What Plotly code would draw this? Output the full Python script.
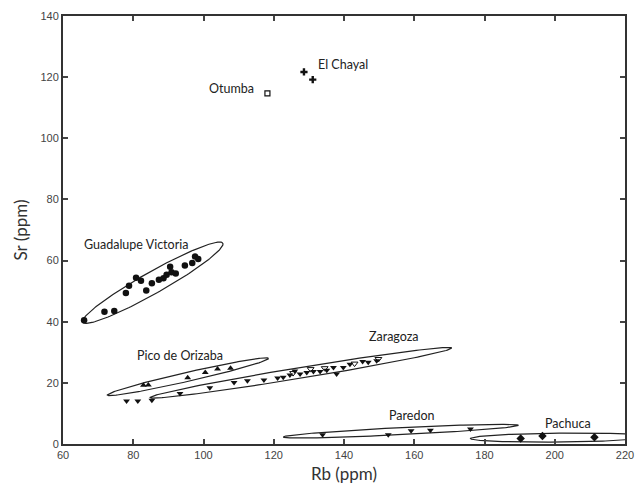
import numpy as np
import plotly.graph_objects as go

# ---------------- data ----------------
gv_rb = [66.0, 71.8, 74.6, 77.9, 78.8, 80.8, 82.2, 83.7, 85.3, 87.3, 88.6, 89.5, 90.5, 90.9, 92.1, 94.7, 96.8, 97.6, 98.5]
gv_sr = [40.5, 43.3, 43.5, 49.4, 51.8, 54.4, 53.4, 50.2, 52.6, 53.7, 54.2, 55.4, 58.0, 56.2, 55.8, 58.4, 59.2, 61.3, 60.5]

po_rb = [82.9, 84.3, 95.5, 100.5, 104.0, 107.7]
po_sr = [19.2, 19.3, 21.7, 23.4, 24.5, 24.8]

za_rb = [78.1, 81.3, 85.3, 93.3, 101.8, 108.7, 112.5, 117.2, 121.1, 122.7, 124.6, 126.0, 127.5, 129.4,
         131.3, 133.2, 135.1, 137.0, 137.9, 139.8, 141.7, 145.3, 146.9, 149.3]
za_sr = [14.1, 14.1, 14.3, 16.5, 18.4, 20.1, 20.7, 20.9, 21.6, 21.8, 22.6, 23.9, 22.9, 23.4,
         23.7, 23.7, 24.1, 25.0, 22.9, 25.0, 26.1, 27.0, 26.7, 27.2]
za_open_rb = [125.5, 130.5, 134.5, 143.0, 149.8]
za_open_sr = [23.2, 24.5, 24.8, 26.3, 27.8]

pa_rb = [133.9, 152.6, 159.1, 164.6, 176.0]
pa_sr = [3.0, 3.0, 4.3, 4.5, 4.9]

pc_rb = [190.3, 196.5, 211.3]
pc_sr = [1.8, 2.6, 2.2]

ec_rb = [128.6, 131.1]
ec_sr = [121.7, 119.2]

ot_rb = [118.2]
ot_sr = [114.7]

# ellipses: end points (Rb, Sr) and relative half-width
ell_names = ["Guadalupe Victoria", "Pico de Orizaba", "Zaragoza", "Paredon", "Pachuca"]
ell_x1 = [65.6, 72.6, 84.8, 122.7, 176.0]
ell_y1 = [39.8, 16.0, 15.2, 2.3, 1.8]
ell_x2 = [105.5, 118.5, 170.7, 189.7, 227.0]
ell_y2 = [65.7, 28.0, 31.4, 6.1, 2.4]
ell_w = [0.135, 0.055, 0.035, 0.03, 0.05]

# group labels
lab_text = ["Guadalupe Victoria", "Pico de Orizaba", "Zaragoza", "Paredon", "Pachuca", "El Chayal", "Otumba"]
lab_x = [80.8, 93.4, 154.1, 159.3, 203.9, 139.8, 108.0]
lab_y = [65.2, 28.9, 35.1, 9.2, 6.7, 124.0, 116.4]

# ---------------- figure ----------------
W, H = 636, 490
ML, MR, MT, MB = 63, 11, 16, 46
XR, YR = (60, 220), (0, 140)
sx = (W - ML - MR) / (XR[1] - XR[0])
sy = (H - MT - MB) / (YR[1] - YR[0])

def ellipse(x1, y1, x2, y2, wfrac, n=200):
    # work in screen-proportional units so the ellipse looks right
    u1, v1, u2, v2 = x1 * sx, y1 * sy, x2 * sx, y2 * sy
    cu, cv = (u1 + u2) / 2, (v1 + v2) / 2
    a = np.hypot(u2 - u1, v2 - v1) / 2
    b = a * wfrac
    ang = np.arctan2(v2 - v1, u2 - u1)
    t = np.linspace(0, 2 * np.pi, n)
    uu = cu + a * np.cos(t) * np.cos(ang) - b * np.sin(t) * np.sin(ang)
    vv = cv + a * np.cos(t) * np.sin(ang) + b * np.sin(t) * np.cos(ang)
    return uu / sx, vv / sy

fig = go.Figure()

for i in range(len(ell_names)):
    ex, ey = ellipse(ell_x1[i], ell_y1[i], ell_x2[i], ell_y2[i], ell_w[i])
    fig.add_trace(go.Scatter(x=ex, y=ey, mode="lines", line=dict(color="#222", width=1.2),
                             hoverinfo="skip", showlegend=False))

ink = "#111"
fig.add_trace(go.Scatter(x=gv_rb, y=gv_sr, mode="markers", name="Guadalupe Victoria",
                         marker=dict(symbol="circle", size=6.5, color=ink)))
fig.add_trace(go.Scatter(x=po_rb, y=po_sr, mode="markers", name="Pico de Orizaba",
                         marker=dict(symbol="triangle-up", size=6, color=ink)))
fig.add_trace(go.Scatter(x=za_rb, y=za_sr, mode="markers", name="Zaragoza",
                         marker=dict(symbol="triangle-down", size=6, color=ink)))
fig.add_trace(go.Scatter(x=za_open_rb, y=za_open_sr, mode="markers", name="Zaragoza (open)",
                         marker=dict(symbol="triangle-down-open", size=6, color=ink, line=dict(width=1))))
fig.add_trace(go.Scatter(x=pa_rb, y=pa_sr, mode="markers", name="Paredon",
                         marker=dict(symbol="triangle-down", size=6, color=ink)))
fig.add_trace(go.Scatter(x=pc_rb, y=pc_sr, mode="markers", name="Pachuca",
                         marker=dict(symbol="diamond", size=6.5, color=ink)))
fig.add_trace(go.Scatter(x=ec_rb, y=ec_sr, mode="markers", name="El Chayal",
                         marker=dict(symbol="cross", size=6, color=ink)))
fig.add_trace(go.Scatter(x=ot_rb, y=ot_sr, mode="markers", name="Otumba",
                         marker=dict(symbol="square-open", size=5, color=ink, line=dict(width=1.2))))

for t, x, y in zip(lab_text, lab_x, lab_y):
    fig.add_annotation(x=x, y=y, text=t, showarrow=False, xref="x", yref="y",
                       font=dict(family="Lato", size=12.5, color="#222"))

axis_common = dict(showline=True, linewidth=2, linecolor="#333", mirror="ticks",
                   ticks="inside", ticklen=5, tickwidth=1.5, tickcolor="#444",
                   showgrid=False, zeroline=False, automargin=False,
                   tickfont=dict(family="Liberation Sans", size=11, color="#444"))

fig.update_xaxes(range=list(XR), dtick=20, tick0=60,
                 title=dict(text="Rb (ppm)", font=dict(family="Lato", size=17, color="#333"), standoff=8),
                 **axis_common)
fig.update_yaxes(range=list(YR), dtick=20,
                 title=dict(text="Sr (ppm)", font=dict(family="Lato", size=17, color="#333"), standoff=8),
                 **axis_common)

fig.update_layout(width=W, height=H, margin=dict(l=ML, r=MR, t=MT, b=MB, autoexpand=False),
                  plot_bgcolor="white", paper_bgcolor="white", showlegend=False)

# remove the default page margin so the figure fills the 636x490 window exactly
fig.write_html("out.html",
               config={"displayModeBar": False},
               post_script="document.body.style.margin='0';document.body.style.overflow='hidden';")
